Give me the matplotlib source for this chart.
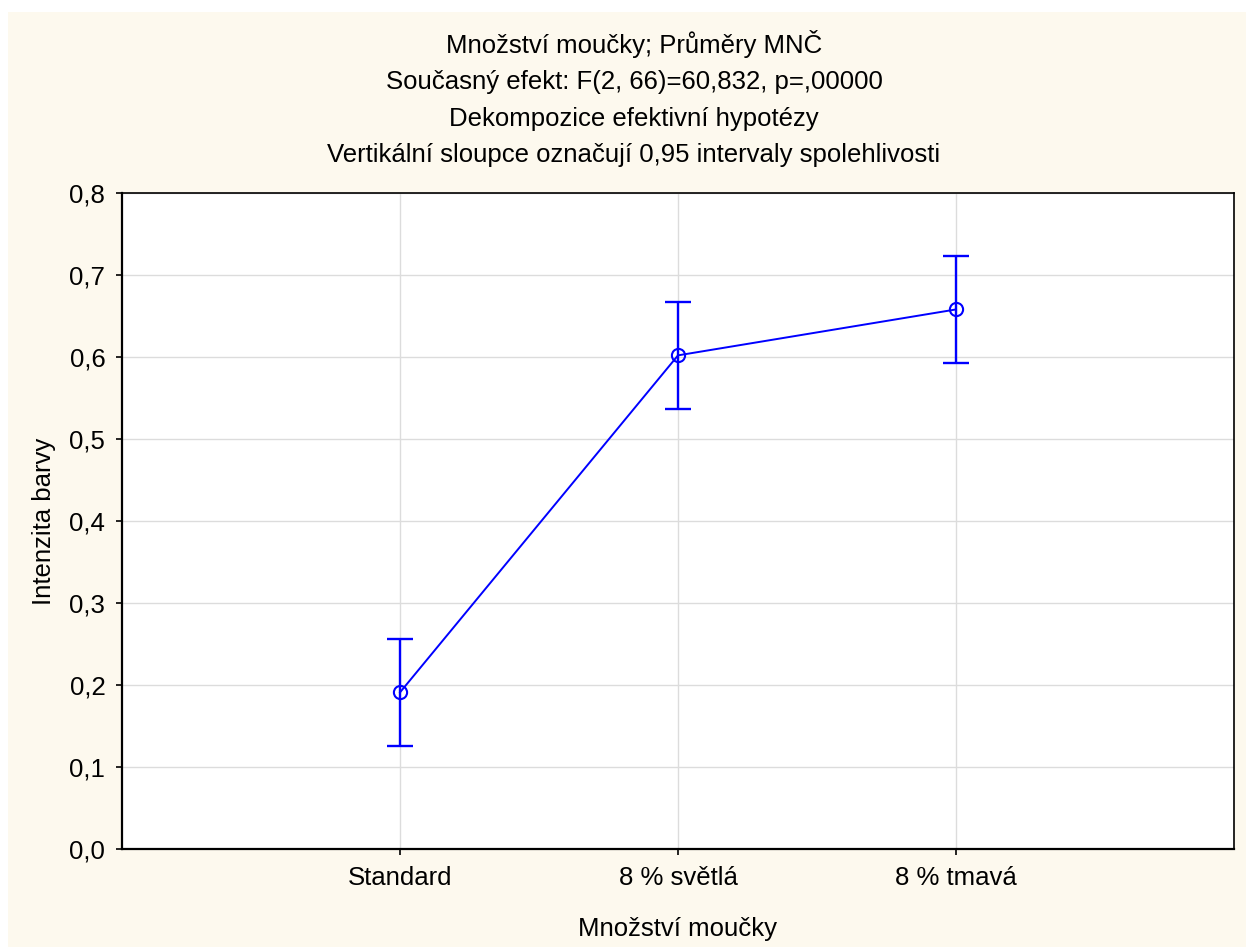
import matplotlib.pyplot as plt
from matplotlib.patches import Rectangle

plt.rcParams['font.family'] = ['Liberation Sans', 'DejaVu Sans']

# least-squares means with 0.95 confidence limits
categories = ['Standard', '8 % světlá', '8 % tmavá']
means = [0.191, 0.602, 0.658]
ci_low = [0.126, 0.537, 0.593]
ci_high = [0.256, 0.667, 0.723]
y_ticks = [0.0, 0.1, 0.2, 0.3, 0.4, 0.5, 0.6, 0.7, 0.8]

title_lines = [
    'Množství moučky; Průměry MNČ',
    'Současný efekt: F(2, 66)=60,832, p=,00000',
    'Dekompozice efektivní hypotézy',
    'Vertikální sloupce označují 0,95 intervaly spolehlivosti',
]

W, H = 1246, 947
FS = 18.5
fig = plt.figure(figsize=(W / 100, H / 100), dpi=100, facecolor='white')
# cream panel behind everything
fig.patches.append(Rectangle((8 / W, 0), 1 - 8 / W, 1 - 12 / H,
                             transform=fig.transFigure, facecolor='#fdf9ee',
                             edgecolor='none', zorder=-10))

ax = fig.add_axes([122 / W, 1 - 849 / H, (1234 - 122) / W, (849 - 193) / H])
ax.set_facecolor('white')

x = list(range(len(categories)))
err_lo = [m - lo for m, lo in zip(means, ci_low)]
err_hi = [hi - m for m, hi in zip(means, ci_high)]

ax.plot(x, means, color='#0000ff', lw=1.4, zorder=3)
ax.errorbar(x, means, yerr=[err_lo, err_hi], fmt='none', ecolor='#0000ff',
            elinewidth=1.7, capsize=9.6, capthick=1.7, zorder=3)
ax.plot(x, means, 'o', mfc='none', mec='#0000ff', mew=1.5, ms=9.5, zorder=4)

ax.set_xlim(-1, 3)
ax.set_ylim(0, 0.8)
ax.set_xticks(x)
ax.set_xticklabels(categories)
ax.set_yticks(y_ticks)
ax.set_yticklabels([f'{v:.1f}'.replace('.', ',') for v in y_ticks])

ax.grid(True, color='#dcdcdc', lw=1)
ax.set_axisbelow(True)
for side in ['left', 'bottom']:
    ax.spines[side].set_linewidth(1.6)
for side in ['top', 'right']:
    ax.spines[side].set_linewidth(1.2)
ax.tick_params(direction='out', length=4, width=1.2, labelsize=FS, pad=8)

ax.set_xlabel('Množství moučky', fontsize=FS, labelpad=20)
ax.set_ylabel('Intenzita barvy', fontsize=FS, labelpad=10)

# four-line heading, baselines ~36 px apart
for i, line in enumerate(title_lines):
    fig.text(634 / W, 1 - (53 + 36.3 * i) / H, line, ha='center',
             va='baseline', fontsize=FS)

fig.savefig('out.png', dpi=100, facecolor=fig.get_facecolor())
